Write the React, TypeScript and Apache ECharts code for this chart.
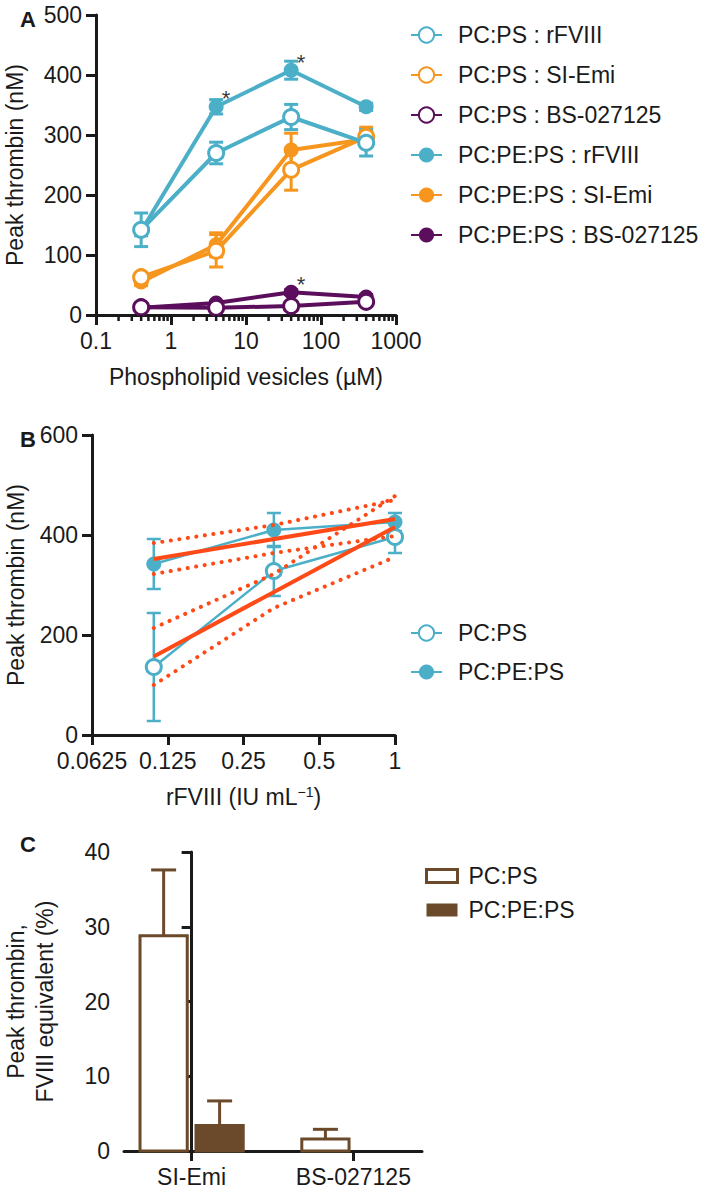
import React, { useEffect, useRef } from 'react';
import * as echarts from 'echarts';

// ---------- Panel A ----------
const vesicleConc = [0.4, 4, 40, 400];
const psRFVIII = [142, 270, 330, 287];
const psRFVIIIErr = [28, 18, 21, 22];
const psSIEmi = [63, 107, 242, 297];
const psSIEmiErr = [6, 27, 34, 16];
const psBS = [13, 12, 15, 22];
const psBSErr = [3, 3, 3, 4];
const pepsRFVIII = [140, 347, 408, 347];
const pepsRFVIIIErr = [8, 12, 15, 6];
const pepsSIEmi = [55, 117, 275, 293];
const pepsSIEmiErr = [6, 20, 28, 12];
const pepsBS = [12, 20, 38, 30];
const pepsBSErr = [3, 3, 4, 4];
const starConc = [4, 40, 40];
const starValues = [347, 408, 38];
const aMinorTicks = [0.2, 0.3, 0.4, 0.5, 0.6, 0.7, 0.8, 0.9, 2, 3, 4, 5, 6, 7, 8, 9, 20, 30, 40, 50, 60, 70, 80, 90, 200, 300, 400, 500, 600, 700, 800, 900];

// ---------- Panel B ----------
const rfviiiDose = [0.11, 0.33, 1];
const bPS = [136, 328, 396];
const bPSErr = [108, 50, 32];
const bPEPS = [342, 410, 426];
const bPEPSErr = [50, 34, 18];
const fitDose = [0.11, 1];
const fitPS = [157, 416];
const fitPEPS = [352, 432];
const bandDose = [0.11, 0.33, 1];
const bandPSUpper = [214, 322, 478];
const bandPSLower = [100, 254, 356];
const bandPEPSUpper = [384, 420, 470];
const bandPEPSLower = [322, 364, 398];

// ---------- Panel C ----------
const cCategories = ['SI-Emi', 'BS-027125'];
const cPS = [28.8, 1.6];
const cPSErr = [8.8, 1.3];
const cPEPS = [3.4, 0];
const cPEPSErr = [3.3, 0];

const CYAN = '#4BAFC8';
const ORANGE = '#F7961E';
const PURPLE = '#5B0E5C';
const RED = '#FF4A17';
const BROWN = '#6B4A2B';
const INK = '#1a1a1a';
const FONT = 'Liberation Sans, Arial, Helvetica, sans-serif';
const FS = 23;

const errorBarItem = (color: string, lw: number, cap: number) => (params: any, api: any) => {
  const x = api.value(0);
  const y = api.value(1);
  const e = api.value(2);
  if (!e) return { type: 'group', children: [] };
  const hi = api.coord([x, y + e]);
  const lo = api.coord([x, y - e]);
  const st = { stroke: color, lineWidth: lw };
  return {
    type: 'group',
    children: [
      { type: 'line', shape: { x1: hi[0], y1: hi[1], x2: lo[0], y2: lo[1] }, style: st },
      { type: 'line', shape: { x1: hi[0] - cap, y1: hi[1], x2: hi[0] + cap, y2: hi[1] }, style: st },
      { type: 'line', shape: { x1: lo[0] - cap, y1: lo[1], x2: lo[0] + cap, y2: lo[1] }, style: st },
    ],
  };
};

const minorTickItem = (params: any, api: any) => {
  const p = api.coord([api.value(0), api.value(1)]);
  return {
    type: 'line',
    shape: { x1: p[0], y1: p[1], x2: p[0], y2: p[1] + 6 },
    style: { stroke: INK, lineWidth: 2.5 },
  };
};

const barItem = (fill: string, offset: number) => (params: any, api: any) => {
  const cat = api.value(0);
  const v = api.value(1);
  const e = api.value(2);
  const half = 0.146;
  const children: any[] = [];
  const st = { stroke: BROWN, lineWidth: 3 };
  if (v > 0) {
    const tl = api.coord([cat + offset - half, v]);
    const br = api.coord([cat + offset + half, 0]);
    children.push({
      type: 'rect',
      shape: { x: tl[0], y: tl[1], width: br[0] - tl[0], height: br[1] - tl[1] },
      style: { fill, stroke: BROWN, lineWidth: 3 },
    });
  }
  if (e > 0) {
    const a = api.coord([cat + offset, v]);
    const b = api.coord([cat + offset, v + e]);
    children.push({ type: 'line', shape: { x1: a[0], y1: a[1], x2: b[0], y2: b[1] }, style: st });
    children.push({ type: 'line', shape: { x1: b[0] - 12.5, y1: b[1], x2: b[0] + 12.5, y2: b[1] }, style: st });
  }
  return { type: 'group', children };
};

const zip3 = (xs: number[], ys: number[], es: number[]) => xs.map((x, i) => [x, ys[i], es[i]]);
const zip2 = (xs: number[], ys: number[]) => xs.map((x, i) => [x, ys[i]]);

const axisLineStyle = { show: true, lineStyle: { color: INK, width: 3 } };
const axisTickStyle = { show: true, inside: false, length: 10, lineStyle: { color: INK, width: 3 } };
const labelStyle = { color: INK, fontSize: FS, fontFamily: FONT };

function lineSeries(name: string, xs: number[], ys: number[], color: string, open: boolean, width: number, z: number, xAxisIndex: number, yAxisIndex: number) {
  return {
    name,
    type: 'line',
    xAxisIndex,
    yAxisIndex,
    data: zip2(xs, ys),
    symbol: 'circle',
    symbolSize: 15,
    clip: false,
    z,
    lineStyle: { color, width },
    itemStyle: open ? { color: '#fff', borderColor: color, borderWidth: 3 } : { color, borderColor: color, borderWidth: 0 },
  };
}

function errSeries(xs: number[], ys: number[], es: number[], color: string, lw: number, cap: number, xAxisIndex: number, yAxisIndex: number) {
  return {
    type: 'custom',
    xAxisIndex,
    yAxisIndex,
    z: 1,
    encode: { x: 0, y: 1 },
    data: zip3(xs, ys, es),
    renderItem: errorBarItem(color, lw, cap),
  };
}

function fitSeries(xs: number[], ys: number[], dotted: boolean) {
  return {
    type: 'line',
    xAxisIndex: 1,
    yAxisIndex: 1,
    data: zip2(xs, ys),
    symbol: 'none',
    clip: false,
    z: 4,
    lineStyle: dotted
      ? { color: RED, width: 4, type: [0.1, 8.5], cap: 'round' }
      : { color: RED, width: 4 },
  };
}

export default function App() {
  const ref = useRef<HTMLDivElement>(null);
  useEffect(() => {
    if (!ref.current) return;
    const chart = echarts.init(ref.current, undefined, { renderer: 'svg' });
    const legendText = { color: INK, fontSize: FS, fontFamily: FONT, lineHeight: 26 };
    const option: any = {
      animation: false,
      backgroundColor: '#fff',
      textStyle: { fontFamily: FONT, color: INK },
      title: [
        { text: 'A', left: 15, top: 3, textStyle: { fontSize: 22, fontWeight: 'bold', color: INK, fontFamily: FONT } },
        { text: 'B', left: 15, top: 423, textStyle: { fontSize: 22, fontWeight: 'bold', color: INK, fontFamily: FONT } },
        { text: 'C', left: 15, top: 828, textStyle: { fontSize: 22, fontWeight: 'bold', color: INK, fontFamily: FONT } },
      ],
      legend: [
        {
          orient: 'vertical',
          left: 410,
          top: 22,
          padding: 0,
          itemWidth: 31,
          itemHeight: 19,
          itemGap: 14,
          selectedMode: false,
          textStyle: { ...legendText, padding: [0, 0, 0, 11] },
          data: ['PC:PS : rFVIII', 'PC:PS : SI-Emi', 'PC:PS : BS-027125', 'PC:PE:PS : rFVIII', 'PC:PE:PS : SI-Emi', 'PC:PE:PS : BS-027125'],
        },
        {
          orient: 'vertical',
          left: 410,
          top: 620,
          padding: 0,
          itemWidth: 31,
          itemHeight: 19,
          itemGap: 13,
          selectedMode: false,
          textStyle: { ...legendText, padding: [0, 0, 0, 11] },
          data: ['PC:PS', 'PC:PE:PS'],
        },
        {
          orient: 'vertical',
          left: 425,
          top: 863,
          padding: 0,
          itemWidth: 31,
          itemHeight: 13,
          itemGap: 8,
          selectedMode: false,
          formatter: (n: string) => n.trim(),
          textStyle: { ...legendText, padding: [0, 0, 0, 6] },
          data: [
            { name: 'PC:PS ', icon: 'rect', itemStyle: { color: '#fff', borderColor: BROWN, borderWidth: 3 } },
            { name: 'PC:PE:PS ', icon: 'rect', itemStyle: { color: BROWN, borderColor: BROWN, borderWidth: 0 } },
          ],
        },
      ],
      grid: [
        { left: 96, top: 15, width: 300, height: 300 },
        { left: 92, top: 435, width: 303, height: 300 },
        { left: 118, top: 852, width: 304, height: 299 },
      ],
      xAxis: [
        {
          gridIndex: 0,
          type: 'log',
          logBase: 10,
          min: 0.1,
          max: 1000,
          position: 'bottom',
          axisLine: axisLineStyle,
          axisTick: axisTickStyle,
          axisLabel: { ...labelStyle, margin: 14, formatter: (v: number) => String(v) },
          splitLine: { show: false },
          minorTick: { show: false },
          name: 'Phospholipid vesicles (µM)',
          nameLocation: 'middle',
          nameGap: 50,
          nameTextStyle: labelStyle,
        },
        {
          gridIndex: 1,
          type: 'log',
          logBase: 2,
          min: 0.0625,
          max: 1,
          position: 'bottom',
          axisLine: axisLineStyle,
          axisTick: axisTickStyle,
          axisLabel: { ...labelStyle, margin: 14, formatter: (v: number) => String(v) },
          splitLine: { show: false },
          name: 'rFVIII (IU mL{sup|−1})',
          nameLocation: 'middle',
          nameGap: 50,
          nameTextStyle: { ...labelStyle, rich: { sup: { fontSize: 14, verticalAlign: 'top', color: INK, fontFamily: FONT } } },
        },
        {
          gridIndex: 2,
          type: 'value',
          min: -0.418,
          max: 1.424,
          position: 'bottom',
          axisLine: axisLineStyle,
          axisTick: { ...axisTickStyle, customValues: [0, 1] },
          axisLabel: { ...labelStyle, margin: 14, customValues: [0, 1], formatter: (v: number) => cCategories[Math.round(v)] },
          splitLine: { show: false },
        },
      ],
      yAxis: [
        {
          gridIndex: 0,
          type: 'value',
          min: 0,
          max: 500,
          interval: 100,
          axisLine: axisLineStyle,
          axisTick: axisTickStyle,
          axisLabel: { ...labelStyle, margin: 14 },
          splitLine: { show: false },
          name: 'Peak thrombin (nM)',
          nameLocation: 'middle',
          nameGap: 70,
          nameTextStyle: labelStyle,
        },
        {
          gridIndex: 1,
          type: 'value',
          min: 0,
          max: 600,
          interval: 200,
          axisLine: axisLineStyle,
          axisTick: axisTickStyle,
          axisLabel: { ...labelStyle, margin: 14 },
          splitLine: { show: false },
          name: 'Peak thrombin (nM)',
          nameLocation: 'middle',
          nameGap: 65,
          nameTextStyle: labelStyle,
        },
        {
          gridIndex: 2,
          type: 'value',
          min: 0,
          max: 40,
          interval: 10,
          axisLine: axisLineStyle,
          axisTick: axisTickStyle,
          axisLabel: { ...labelStyle, margin: 14 },
          splitLine: { show: false },
          name: 'Peak thrombin,\nFVIII equivalent (%)',
          nameLocation: 'middle',
          nameGap: 65,
          nameTextStyle: { ...labelStyle, lineHeight: 29 },
        },
      ],
      series: [
        // Panel A error bars
        errSeries(vesicleConc, pepsBS, pepsBSErr, PURPLE, 3, 7, 0, 0),
        errSeries(vesicleConc, pepsSIEmi, pepsSIEmiErr, ORANGE, 3, 7, 0, 0),
        errSeries(vesicleConc, pepsRFVIII, pepsRFVIIIErr, CYAN, 3, 7, 0, 0),
        errSeries(vesicleConc, psBS, psBSErr, PURPLE, 3, 7, 0, 0),
        errSeries(vesicleConc, psSIEmi, psSIEmiErr, ORANGE, 3, 7, 0, 0),
        errSeries(vesicleConc, psRFVIII, psRFVIIIErr, CYAN, 3, 7, 0, 0),
        // Panel A minor log ticks (below the x axis line)
        {
          type: 'custom',
          xAxisIndex: 0,
          yAxisIndex: 0,
          z: 10,
          silent: true,
          encode: { x: 0, y: 1 },
          data: aMinorTicks.map((v) => [v, 0]),
          renderItem: minorTickItem,
        },
        // Panel A lines
        lineSeries('PC:PE:PS : BS-027125', vesicleConc, pepsBS, PURPLE, false, 4, 2, 0, 0),
        lineSeries('PC:PE:PS : SI-Emi', vesicleConc, pepsSIEmi, ORANGE, false, 4, 2, 0, 0),
        lineSeries('PC:PE:PS : rFVIII', vesicleConc, pepsRFVIII, CYAN, false, 4, 2, 0, 0),
        lineSeries('PC:PS : BS-027125', vesicleConc, psBS, PURPLE, true, 4, 3, 0, 0),
        lineSeries('PC:PS : SI-Emi', vesicleConc, psSIEmi, ORANGE, true, 4, 3, 0, 0),
        lineSeries('PC:PS : rFVIII', vesicleConc, psRFVIII, CYAN, true, 4, 3, 0, 0),
        {
          type: 'scatter',
          xAxisIndex: 0,
          yAxisIndex: 0,
          z: 6,
          symbol: 'circle',
          symbolSize: 1,
          itemStyle: { color: 'rgba(0,0,0,0)' },
          data: zip2(starConc, starValues),
          label: { show: true, formatter: '*', position: 'inside', offset: [10, -8], fontSize: 22, color: '#000', fontFamily: FONT },
        },
        // Panel B
        errSeries(rfviiiDose, bPEPS, bPEPSErr, CYAN, 2.5, 7, 1, 1),
        errSeries(rfviiiDose, bPS, bPSErr, CYAN, 2.5, 7, 1, 1),
        lineSeries('PC:PE:PS', rfviiiDose, bPEPS, CYAN, false, 2.5, 2, 1, 1),
        lineSeries('PC:PS', rfviiiDose, bPS, CYAN, true, 2.5, 3, 1, 1),
        fitSeries(bandDose, bandPSUpper, true),
        fitSeries(bandDose, bandPSLower, true),
        fitSeries(bandDose, bandPEPSUpper, true),
        fitSeries(bandDose, bandPEPSLower, true),
        fitSeries(fitDose, fitPS, false),
        fitSeries(fitDose, fitPEPS, false),
        // Panel C
        {
          name: 'PC:PS ',
          type: 'custom',
          xAxisIndex: 2,
          yAxisIndex: 2,
          encode: { x: 0, y: 1 },
          itemStyle: { color: '#fff', borderColor: BROWN },
          data: cCategories.map((c, i) => [i, cPS[i], cPSErr[i]]),
          renderItem: barItem('#fff', -0.173),
        },
        {
          name: 'PC:PE:PS ',
          type: 'custom',
          xAxisIndex: 2,
          yAxisIndex: 2,
          encode: { x: 0, y: 1 },
          itemStyle: { color: BROWN },
          data: cCategories.map((c, i) => [i, cPEPS[i], cPEPSErr[i]]),
          renderItem: barItem(BROWN, 0.173),
        },
      ],
    };
    chart.setOption(option);
    return () => chart.dispose();
  }, []);
  return <div ref={ref} style={{ position: 'absolute', left: 0, top: 0, width: 709, height: 1189, background: '#fff' }} />;
}
